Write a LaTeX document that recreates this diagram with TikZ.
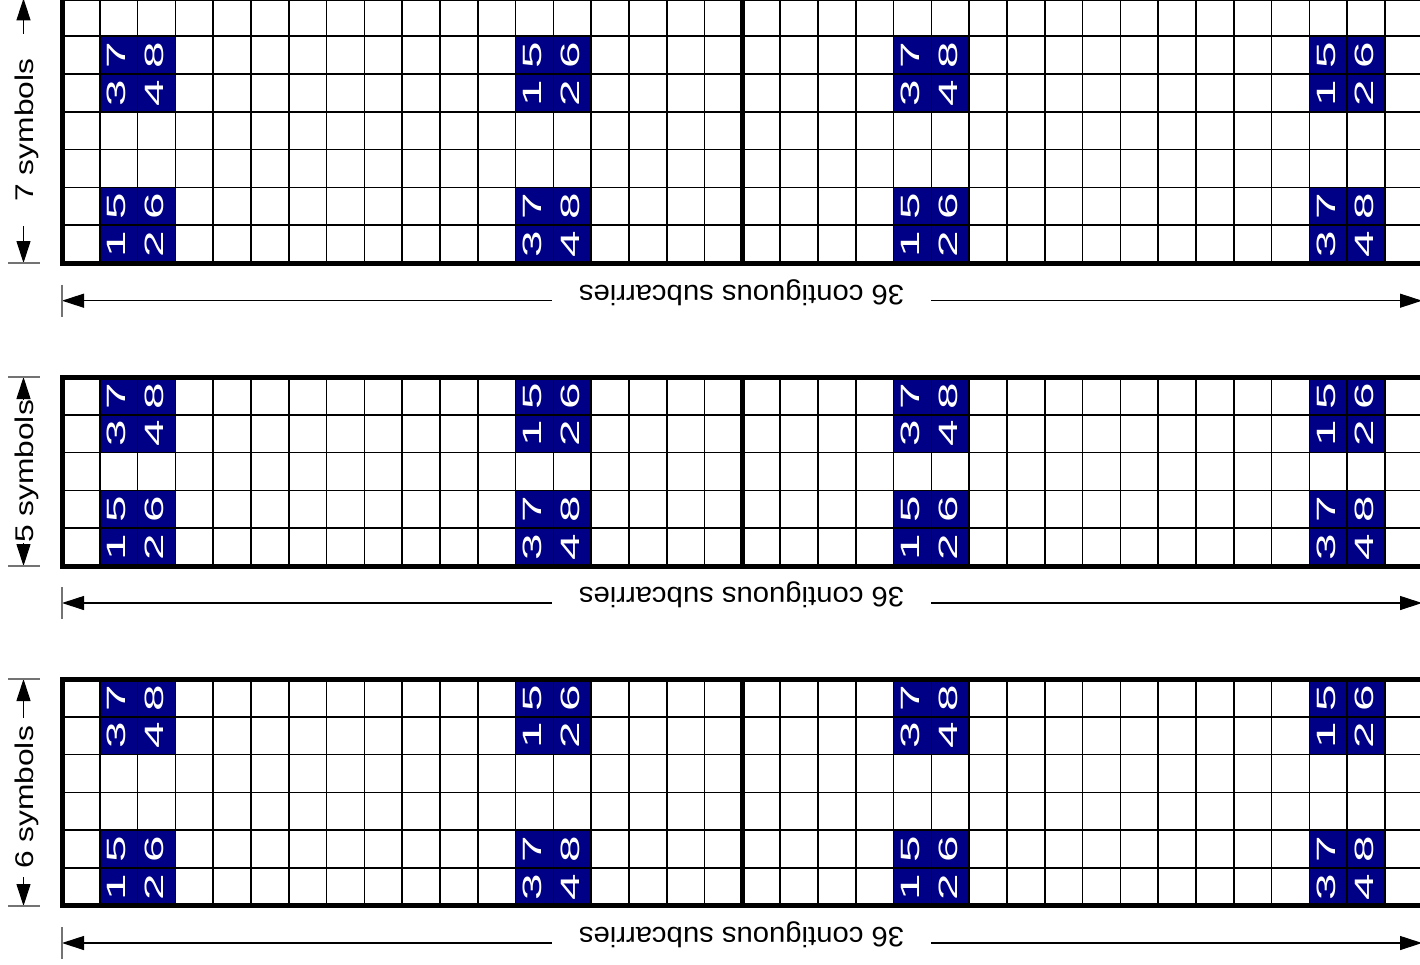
\documentclass[tikz,border=0pt]{standalone}
\usepackage{fontspec}
\setmainfont{Liberation Sans}
\usetikzlibrary{arrows.meta}
\definecolor{cellblue}{RGB}{0,0,135}
\def\cw{37.8}
\tikzset{
  gridline/.style={line width=1.5pt, draw=black},
  frameline/.style={line width=5pt, draw=black},
  digit/.style={text=white, rotate=90, inner sep=0pt, font=\fontsize{26.5}{28}\selectfont},
  dimarrow/.style={line width=1.1pt, {Triangle[length=22pt,width=14pt]}-{Triangle[length=22pt,width=14pt]}},
  tickline/.style={line width=1.2pt, draw=black!55},
  symlabel/.style={rotate=90, anchor=base, fill=white, inner ysep=2pt, font=\fontsize{25.6}{28}\selectfont},
  sublabel/.style={rotate=180, anchor=base, fill=white, inner xsep=27pt, inner ysep=2pt, font=\fontsize{28}{30}\selectfont}
}
\newcommand{\gridblock}[5]{%
  % #1 name, #2 top y, #3 rows, #4 upper pair row, #5 lower pair row
  \foreach \c in {1,12,22,33}{
    \fill[cellblue] ({62+\c*\cw},{#2+#4*\cw}) rectangle ++({2*\cw},{2*\cw});
    \fill[cellblue] ({62+\c*\cw},{#2+#5*\cw}) rectangle ++({2*\cw},{2*\cw});
  }
  \foreach \i in {1,...,35}{
    \draw[gridline] ({62+\i*\cw},#2) -- ++(0,{#3*\cw});
  }
  \pgfmathtruncatemacro\lastrow{#3-1}
  \foreach \j in {1,...,\lastrow}{
    \draw[gridline] (62,{#2+\j*\cw}) -- ++({36*\cw},0);
  }
  \draw[frameline] (62,#2) rectangle ({62+36*\cw},{#2+#3*\cw});
  \draw[frameline] ({62+18*\cw},#2) -- ++(0,{#3*\cw});
  \foreach \c/\ua/\ub/\uc/\ud/\la/\lb/\lc/\ld in {1/7/8/3/4/5/6/1/2,12/5/6/1/2/7/8/3/4,22/7/8/3/4/5/6/1/2,33/5/6/1/2/7/8/3/4}{
    \node[digit] (#1-\c-1) at ({60+(\c+0.5)*\cw},{#2+(#4+0.5)*\cw}) {\scalebox{1.8}[1]{\ua}};
    \node[digit] (#1-\c-2) at ({60+(\c+1.5)*\cw},{#2+(#4+0.5)*\cw}) {\scalebox{1.8}[1]{\ub}};
    \node[digit] (#1-\c-3) at ({60+(\c+0.5)*\cw},{#2+(#4+1.5)*\cw}) {\scalebox{1.8}[1]{\uc}};
    \node[digit] (#1-\c-4) at ({60+(\c+1.5)*\cw},{#2+(#4+1.5)*\cw}) {\scalebox{1.8}[1]{\ud}};
    \node[digit] (#1-\c-5) at ({60+(\c+0.5)*\cw},{#2+(#5+0.5)*\cw}) {\scalebox{1.8}[1]{\la}};
    \node[digit] (#1-\c-6) at ({60+(\c+1.5)*\cw},{#2+(#5+0.5)*\cw}) {\scalebox{1.8}[1]{\lb}};
    \node[digit] (#1-\c-7) at ({60+(\c+0.5)*\cw},{#2+(#5+1.5)*\cw}) {\scalebox{1.8}[1]{\lc}};
    \node[digit] (#1-\c-8) at ({60+(\c+1.5)*\cw},{#2+(#5+1.5)*\cw}) {\scalebox{1.8}[1]{\ld}};
  }
}
\begin{document}
\begin{tikzpicture}[x=1pt,y=-1pt]
\useasboundingbox (0,0) rectangle (1420,964);
\clip (0,0) rectangle (1420,964);
\fill[white] (0,0) rectangle (1420,964);

% grids
\gridblock{ga}{-1.6}{7}{1}{5}
\gridblock{gb}{377}{5}{0}{3}
\gridblock{gc}{679}{6}{0}{4}

% vertical symbol dimensions
\coordinate (s1t) at (23.5,-1.6);
\coordinate (s1b) at (23.5,263);
\coordinate (s2t) at (23.5,377);
\coordinate (s2b) at (23.5,566);
\coordinate (s3t) at (23.5,679);
\coordinate (s3b) at (23.5,906);

\draw[dimarrow] (s1t) -- (s1b);
\draw[dimarrow] (s2t) -- (s2b);
\draw[dimarrow] (s3t) -- (s3b);

\node[symlabel, inner xsep=25pt] (sym1) at (33,130) {\scalebox{1.24}[1]{7 symbols}};
\node[symlabel, inner xsep=0.5pt] (sym2) at (33,471.5) {\scalebox{1.24}[1]{5 symbols}};
\node[symlabel, inner xsep=8.5pt] (sym3) at (33,797.5) {\scalebox{1.24}[1]{6 symbols}};

\foreach \p in {s1t,s1b,s2t,s2b,s3t,s3b}{
  \draw[tickline] ([xshift=-15.5pt]\p) -- ([xshift=16.5pt]\p);
}

% horizontal subcarrier dimensions
\coordinate (h1l) at (62,300.7);
\coordinate (h1r) at (1422,300.7);
\coordinate (h2l) at (62,603);
\coordinate (h2r) at (1422,603);
\coordinate (h3l) at (62,943);
\coordinate (h3r) at (1422,943);

\draw[dimarrow] (h1l) -- (h1r);
\draw[dimarrow] (h2l) -- (h2r);
\draw[dimarrow] (h3l) -- (h3r);

\node[sublabel] (sub1) at (741.5,285) {\scalebox{1.045}[1]{36 contiguous subcarries}};
\node[sublabel] (sub2) at (741.5,587.3) {\scalebox{1.045}[1]{36 contiguous subcarries}};
\node[sublabel] (sub3) at (741.5,927.3) {\scalebox{1.045}[1]{36 contiguous subcarries}};

\foreach \p in {h1l,h2l,h3l,h1r,h2r,h3r}{
  \draw[tickline] ([yshift=16pt]\p) -- ([yshift=-16pt]\p);
}
\end{tikzpicture}
\end{document}
